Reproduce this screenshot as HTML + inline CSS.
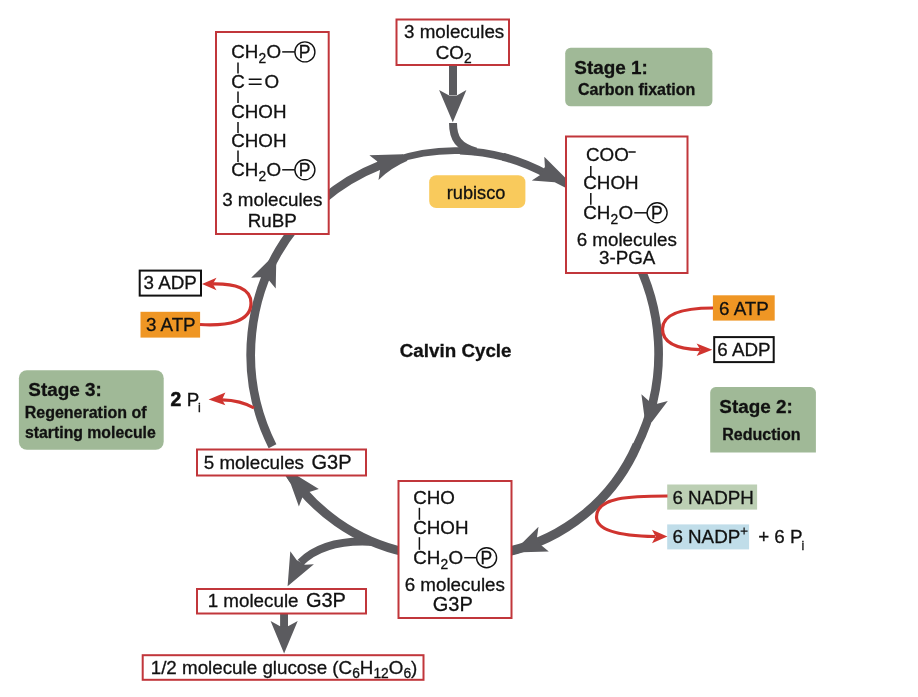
<!DOCTYPE html>
<html><head><meta charset="utf-8"><title>Calvin Cycle</title>
<style>
html,body{margin:0;padding:0;background:#fff;}
body{width:918px;height:697px;overflow:hidden;font-family:"Liberation Sans",sans-serif;}
svg{display:block;}
text{font-family:"Liberation Sans",sans-serif;fill:#111;stroke:#111;stroke-width:0.3px;}
.t{font-size:18.8px;}
.b{font-weight:700;}
.rb{fill:#fff;stroke:#c1363b;stroke-width:2;}
.g{fill:#5b5b5f;}
.gs{fill:none;stroke:#5b5b5f;stroke-width:8.5;}
.r{fill:none;stroke:#d0342f;stroke-width:3.2;}
.rf{fill:#d0342f;}
.bond{stroke:#111;stroke-width:1.5;fill:none;}
.pc{fill:none;stroke:#111;stroke-width:1.4;}
.sub{font-size:13.8px;}
</style></head><body>
<svg width="918" height="697" viewBox="0 0 918 697">
<rect width="918" height="697" fill="#fff"/>

<!-- main cycle -->
<g id="cycle">
<path d="M322.1 200.1 A203.5 203.5 0 0 1 380.1 165.2" fill="none" stroke="#5b5b5f" stroke-width="8.7"/>
<path d="M392.4 161.1 A190.8 190.8 0 0 1 462.0 150.7" fill="none" stroke="#5b5b5f" stroke-width="6.8"/>
<path d="M460.0 150.7 A190.8 190.8 0 0 1 505.2 157.4" fill="none" stroke="#5b5b5f" stroke-width="7.4"/>
<path d="M503.1 156.8 A190.8 190.8 0 0 1 548.0 174.9" fill="none" stroke="#5b5b5f" stroke-width="8.0"/>
<path d="M624.9 240.1 A207.2 207.2 0 0 1 636.8 445.9" fill="none" stroke="#5b5b5f" stroke-width="8.7"/>
<path d="M637.1 444.8 A185.5 185.5 0 0 1 503.9 552.5" fill="none" stroke="#5b5b5f" stroke-width="9.3"/>
<path d="M406.1 552.3 A189.6 189.6 0 0 1 285.2 467.3" fill="none" stroke="#5b5b5f" stroke-width="9.0"/>
<path d="M272.5 446.2 A204.6 204.6 0 0 1 295.6 226.5" fill="none" stroke="#5b5b5f" stroke-width="8.7"/>
<path d="M369.4 155.2 L403 154.2 L407.5 160.8 Q391.5 167.5 378.5 179.9 L380.1 169.8 L377.1 161.3 Z" class="g"/>
<path d="M544.3 156.7 L567 179.6 L567 188.4 L554.7 182.3 L531.8 180.4 L540.9 174.6 L544.9 166.7 Z" class="g"/>
<path d="M641.4 394.2 L644.6 417.9 L651.7 422.2 L667.8 400.9 L657.3 403.7 L649.5 401.5 Z" class="g"/>
<path d="M538.5 526.8 L521.2 543.9 L511 547 L511 555.2 L522 552.2 L548.8 551.4 L540.9 545.1 L537 537.2 Z" class="g"/>
<path d="M298.9 506.4 L290.8 483.9 L285.5 475 L296 475 L318.8 489.1 L308.5 492.2 L302.2 497.8 Z" class="g"/>
<path d="M251.2 277.7 L269.7 259.6 L276.2 263.9 L275.7 288.5 L269.3 280.7 L261.1 277.3 Z" class="g"/>
<path d="M287.6 586.3 L290.3 551.3 L296.6 560 L305 564.8 L313.9 564.2 Z" class="g"/>
</g>

<!-- branches -->
<g id="branches">
<rect x="449" y="65" width="8" height="30" class="g"/>
<path d="M452.8 122.3 L439.1 90 L449.2 95.5 L456.8 95.5 L466.4 90 Z" class="g"/>
<path d="M453 123 C453 139 459 147 476 151.5" fill="none" stroke="#5b5b5f" stroke-width="8"/>
<path d="M374 542 C352 540.5 321 542.5 300.5 562.5" fill="none" stroke="#5b5b5f" stroke-width="8"/>
<rect x="280.1" y="614" width="7.9" height="13" class="g"/>
<path d="M284.1 653.6 L270.6 620.9 L280.1 626.2 L288 626.2 L297.7 620.9 Z" class="g"/>
</g>

<!-- red boxes -->
<g id="boxes">
<rect x="216" y="32" width="112.7" height="202" class="rb"/>
<rect x="396.5" y="19.5" width="112.5" height="45.5" class="rb"/>
<rect x="566" y="136.5" width="121.5" height="136.5" class="rb"/>
<rect x="398.5" y="481" width="113" height="137" class="rb"/>
<rect x="197" y="449.5" width="169" height="26" class="rb"/>
<rect x="197" y="589" width="169" height="24.5" class="rb"/>
<rect x="142.7" y="655.2" width="280.8" height="24.6" class="rb"/>
</g>

<!-- stage labels -->
<g id="stages">
<rect x="565.2" y="47.8" width="147.2" height="58.5" rx="5.5" fill="#a0b997"/>
<path d="M710.2 452.5 V392.6 a5.5 5.5 0 0 1 5.5 -5.5 H810.4 a5.5 5.5 0 0 1 5.5 5.5 V452.5 Z" fill="#a0b997"/>
<rect x="18.9" y="370.2" width="144.8" height="79.6" rx="8" fill="#a0b997"/>
<rect x="429.2" y="175.3" width="96.2" height="32.8" rx="7" fill="#f9ca5c"/>
</g>

<!-- small boxes -->
<g id="small">
<rect x="139.7" y="270.6" width="61.3" height="25" fill="#fff" stroke="#111" stroke-width="2"/>
<rect x="140.5" y="311.8" width="59.6" height="25.8" fill="#ef9624"/>
<rect x="712.9" y="295.3" width="61.8" height="25.3" fill="#ef9624"/>
<rect x="714.2" y="337.1" width="59.5" height="25" fill="#fff" stroke="#111" stroke-width="2"/>
<rect x="667.2" y="484.5" width="89.9" height="25.1" fill="#bccfb4"/>
<rect x="667.2" y="524.4" width="81.9" height="25" fill="#c0dde9"/>
</g>

<!-- red arrows -->
<g id="red">
<path d="M200 324.5 C228 326 251 322 251 303 C251 288 235 283.5 213 283.8" class="r"/>
<path d="M202 283.9 L216.5 277.8 L212.8 284 L216.5 290.2 Z" class="rf"/>
<path d="M254 408 C244 402 234 400 222 399.8" class="r"/>
<path d="M208.6 399.4 L225.4 392.5 L222 399.8 L225.4 405.2 Z" class="rf"/>
<path d="M713 308 C688 308 662.5 312 662.5 329 C662.5 343 678 349 700 349.7" class="r"/>
<path d="M712.3 349.7 L696.6 343.4 L700.3 349.7 L696.6 356 Z" class="rf"/>
<path d="M667.5 496 C630 496 596.5 497 596.5 517 C596.5 532 625 536 655 536.5" class="r"/>
<path d="M667.4 536.5 L652 529.7 L655.6 536.5 L652 543.3 Z" class="rf"/>
</g>

<!-- text -->
<g id="text" class="t" style="filter:grayscale(1)" transform="translate(0,0.5)">
<text x="231.2" y="57.8">CH</text>
<text x="258.4" y="62.4" class="sub">2</text>
<text x="266.5" y="57.8">O</text>
<path d="M282.2 51.4 H294.9" class="bond"/>
<circle cx="304.9" cy="51.4" r="10" class="pc"/>
<text x="298.7" y="57.5" style="font-size:17.5px">P</text>
<path d="M238.0 62.0 V73.0" class="bond"/>
<text x="231.2" y="87.5">C</text><path d="M248.7 78.8 H261.6 M248.7 83.8 H261.6" class="bond"/><text x="264.4" y="87.5">O</text>
<path d="M238.0 91.0 V102.5" class="bond"/>
<text x="231.2" y="117.6">CHOH</text>
<path d="M238.0 121.5 V132.5" class="bond"/>
<text x="231.2" y="146.3">CHOH</text>
<path d="M238.0 150.0 V161.5" class="bond"/>
<text x="231.2" y="175.7">CH</text>
<text x="258.4" y="180.3" class="sub">2</text>
<text x="266.5" y="175.7">O</text>
<path d="M282.2 169.3 H294.9" class="bond"/>
<circle cx="304.9" cy="169.3" r="10" class="pc"/>
<text x="298.7" y="175.4" style="font-size:17.5px">P</text>
<text x="272.3" y="205.7" text-anchor="middle">3 molecules</text>
<text x="272.3" y="226.3" text-anchor="middle">RuBP</text>
<text x="586" y="160.8">COO</text><path d="M628.4 151.5 H635.7" class="bond"/>
<path d="M590.8 165.5 V176.3" class="bond"/>
<text x="583.3" y="188.8">CHOH</text>
<path d="M590.8 192.5 V204.3" class="bond"/>
<text x="583.3" y="218.7">CH</text>
<text x="610.5" y="223.3" class="sub">2</text>
<text x="618.6" y="218.7">O</text>
<path d="M634.3 212.3 H647.1" class="bond"/>
<circle cx="657.1" cy="212.3" r="10" class="pc"/>
<text x="650.9" y="218.4" style="font-size:17.5px">P</text>
<text x="626.8" y="245" text-anchor="middle">6 molecules</text>
<text x="627.2" y="263.8" text-anchor="middle">3-PGA</text>
<text x="413.2" y="503.7">CHO</text>
<path d="M419.4 507.3 V519.3" class="bond"/>
<text x="413.2" y="533.6">CHOH</text>
<path d="M419.4 536.7 V549.3" class="bond"/>
<text x="413.2" y="563.6">CH</text>
<text x="440.4" y="568.2" class="sub">2</text>
<text x="448.5" y="563.6">O</text>
<path d="M464.2 557.2 H476.6" class="bond"/>
<circle cx="486.6" cy="557.2" r="10" class="pc"/>
<text x="480.4" y="563.3" style="font-size:17.5px">P</text>
<text x="454.8" y="590" text-anchor="middle">6 molecules</text>
<text x="452.8" y="610.5" text-anchor="middle" style="font-size:20px">G3P</text>
<text x="203.8" y="468">5 molecules</text><text x="311.5" y="468" style="font-size:20px">G3P</text>
<text x="207.7" y="606.3">1 molecule</text><text x="305.9" y="606.3" style="font-size:20px">G3P</text>
<text x="150.7" y="673.3" style="font-size:18.8px">1/2 molecule glucose (C<tspan class="sub" dy="4.3">6</tspan><tspan dy="-4.3">H</tspan><tspan class="sub" dy="4.3">12</tspan><tspan dy="-4.3">O</tspan><tspan class="sub" dy="4.3">6</tspan><tspan dy="-4.3">)</tspan></text>
<text x="574.3" y="73" class="b" style="font-size:18.9px">Stage 1:</text>
<text x="578" y="94.6" class="b" style="font-size:16px">Carbon fixation</text>
<text x="719.3" y="412.6" class="b" style="font-size:18.9px">Stage 2:</text>
<text x="722.3" y="439.3" class="b" style="font-size:16px">Reduction</text>
<text x="28.3" y="395.2" class="b" style="font-size:18.9px">Stage 3:</text>
<text x="24.7" y="417.7" class="b" style="font-size:16px">Regeneration of</text>
<text x="25" y="437.5" class="b" style="font-size:15.8px">starting molecule</text>
<text x="399.8" y="356.1" class="b" style="font-size:18.8px">Calvin Cycle</text>
<text x="446.8" y="198.1" style="font-size:18.2px">rubisco</text>
<text x="404" y="37.3">3 molecules</text>
<text x="435.8" y="58.2">CO<tspan class="sub" dy="4.3">2</tspan></text>
<text x="143.6" y="288.8">3 ADP</text>
<text x="145.9" y="330.6">3 ATP</text>
<text x="719" y="314">6 ATP</text>
<text x="717.3" y="355.3">6 ADP</text>
<text x="672.4" y="503.1">6 NADPH</text>
<text x="672.4" y="542.7">6 NADP</text><path d="M740.6 530.6 H747.6 M744.1 527.1 V534.1" stroke="#111" stroke-width="1.2" fill="none"/>
<text x="758.2" y="542.7">+ 6 P<tspan style="font-size:12.5px" dy="6.6" dx="-1">i</tspan></text>
<text x="170.5" y="405.6" style="font-size:19.3px;font-weight:700;stroke:#111;stroke-width:0.6">2</text>
<text x="186.7" y="405.6">P<tspan style="font-size:12.5px" dy="6" dx="-1.2">i</tspan></text>
</g>
</svg>
</body></html>
